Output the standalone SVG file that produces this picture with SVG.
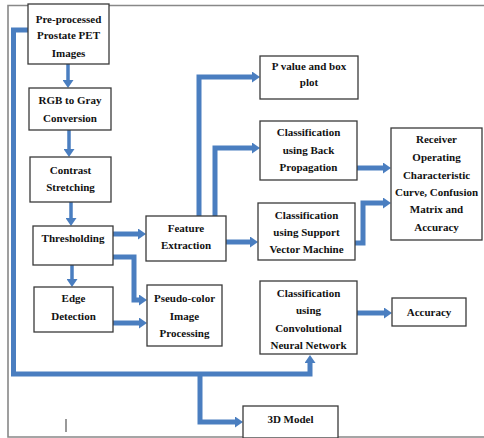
<svg xmlns="http://www.w3.org/2000/svg" width="484" height="438" viewBox="0 0 484 438">
<style>
.box{fill:#fff;stroke:#3a3a3a;stroke-width:1.3}
.t{font-family:"Liberation Serif","Times New Roman",serif;font-weight:bold;font-size:11px;fill:#111;text-anchor:middle}
.c{fill:none;stroke:#4a7ec0;stroke-width:5;stroke-linejoin:miter}
.cs{fill:none;stroke:#4a7ec0;stroke-width:3.5}
</style>
<defs>
<marker id="ah" markerUnits="userSpaceOnUse" markerWidth="10" markerHeight="11" refX="2" refY="5.5" orient="auto">
<path d="M0,0 L8,5.5 L0,11 z" fill="#4a7ec0"/>
</marker>
</defs>
<rect x="0" y="0" width="484" height="438" fill="#fff"/>
<g id="frame" fill="none" stroke="#888" stroke-width="1.6">
<path d="M484,5.5 H8 V437 H484"/>
<path d="M66,419 V432" stroke="#999" stroke-width="2"/>
</g>
<g id="connectors">
<path class="c" d="M28,30 H13.5 V374 H310 V361" marker-end="url(#ah)"/>
<path class="c" d="M200,374 V422 H237" marker-end="url(#ah)"/>
<path class="cs" d="M68,64 V82" marker-end="url(#ah)"/>
<path class="cs" d="M69,130 V151" marker-end="url(#ah)"/>
<path class="cs" d="M71,202 V220" marker-end="url(#ah)"/>
<path class="cs" d="M72,265 V281" marker-end="url(#ah)"/>
<path class="c" d="M113,234 H140" marker-end="url(#ah)"/>
<path class="c" d="M113,257 H134 V300 H141" marker-end="url(#ah)"/>
<path class="c" d="M113,323 H141" marker-end="url(#ah)"/>
<path class="c" d="M199,216 V77 H254" marker-end="url(#ah)"/>
<path class="c" d="M215,216 V148 H254" marker-end="url(#ah)"/>
<path class="c" d="M226,242 H252" marker-end="url(#ah)"/>
<path class="c" d="M357,168 H385" marker-end="url(#ah)"/>
<path class="c" d="M355,243 H363 V203 H385" marker-end="url(#ah)"/>
<path class="c" d="M357,313 H386" marker-end="url(#ah)"/>
</g>
<g id="n1"><rect class="box" x="28" y="4" width="81" height="60"/>
<text class="t" x="68.5" y="23">Pre-processed</text><text class="t" x="68.5" y="39">Prostate PET</text><text class="t" x="68.5" y="57">Images</text></g>
<g id="n2"><rect class="box" x="29" y="88" width="82" height="42"/>
<text class="t" x="70" y="104">RGB to Gray</text><text class="t" x="70" y="122">Conversion</text></g>
<g id="n3"><rect class="box" x="30" y="157" width="81" height="45"/>
<text class="t" x="70.5" y="174">Contrast</text><text class="t" x="70.5" y="191">Stretching</text></g>
<g id="n4"><rect class="box" x="33" y="226" width="80" height="39"/>
<text class="t" x="73" y="242">Thresholding</text></g>
<g id="n5"><rect class="box" x="34" y="287" width="79" height="45"/>
<text class="t" x="73.5" y="302">Edge</text><text class="t" x="73.5" y="320">Detection</text></g>
<g id="n6"><rect class="box" x="147" y="285" width="75" height="61"/>
<text class="t" x="184.5" y="302">Pseudo-color</text><text class="t" x="184.5" y="320">Image</text><text class="t" x="184.5" y="337">Processing</text></g>
<g id="n7"><rect class="box" x="146" y="216" width="80" height="45"/>
<text class="t" x="186" y="232">Feature</text><text class="t" x="186" y="249">Extraction</text></g>
<g id="n8"><rect class="box" x="260" y="56" width="98" height="43"/>
<text class="t" x="309" y="70">P value and box</text><text class="t" x="309" y="86">plot</text></g>
<g id="n9"><rect class="box" x="260" y="121" width="97" height="59"/>
<text class="t" x="308.5" y="136">Classification</text><text class="t" x="308.5" y="154">using Back</text><text class="t" x="308.5" y="171">Propagation</text></g>
<g id="n10"><rect class="box" x="258" y="203" width="97" height="57"/>
<text class="t" x="306.5" y="219">Classification</text><text class="t" x="306.5" y="236">using Support</text><text class="t" x="306.5" y="253">Vector Machine</text></g>
<g id="n11"><rect class="box" x="391" y="128" width="91" height="112"/>
<text class="t" x="436.5" y="143">Receiver</text><text class="t" x="436.5" y="161">Operating</text><text class="t" x="436.5" y="179">Characteristic</text><text class="t" x="436.5" y="196">Curve, Confusion</text><text class="t" x="436.5" y="213">Matrix and</text><text class="t" x="436.5" y="231">Accuracy</text></g>
<g id="n12"><rect class="box" x="260" y="281" width="97" height="73"/>
<text class="t" x="308.5" y="297">Classification</text><text class="t" x="308.5" y="314">using</text><text class="t" x="308.5" y="332">Convolutional</text><text class="t" x="308.5" y="349">Neural Network</text></g>
<g id="n13"><rect class="box" x="392" y="298" width="74" height="28"/>
<text class="t" x="429" y="316">Accuracy</text></g>
<g id="n14"><rect class="box" x="243" y="406" width="95" height="32"/>
<text class="t" x="290.5" y="423">3D Model</text></g>
</svg>
